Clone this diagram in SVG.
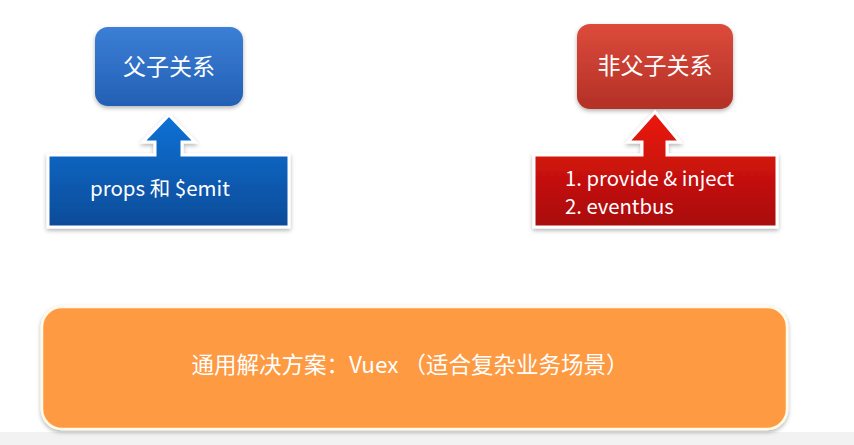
<svg xmlns="http://www.w3.org/2000/svg" width="854" height="445" viewBox="0 0 854 445">
<defs>
<linearGradient id="gBlueTop" x1="0" y1="0" x2="0" y2="1"><stop offset="0" stop-color="#3b7fd6"/><stop offset="1" stop-color="#2360b4"/></linearGradient>
<linearGradient id="gBlue" x1="0" y1="0" x2="0" y2="1"><stop offset="0" stop-color="#0a72d6"/><stop offset="1" stop-color="#0a4b98"/></linearGradient>
<linearGradient id="gRedTop" x1="0" y1="0" x2="0" y2="1"><stop offset="0" stop-color="#dc4b3b"/><stop offset="1" stop-color="#b33026"/></linearGradient>
<linearGradient id="gRed" x1="0" y1="0" x2="0" y2="1"><stop offset="0" stop-color="#ec1a10"/><stop offset="1" stop-color="#a80a08"/></linearGradient>
<filter id="sh" x="-10%" y="-10%" width="120%" height="130%"><feDropShadow dx="0" dy="2" stdDeviation="2" flood-color="#000" flood-opacity="0.3"/></filter>
</defs>
<style>
.lbl{font-family:"Noto Sans CJK SC","Open Sans",sans-serif;fill:#fff;}
.box{stroke:#fff;stroke-width:3;}
</style>
<rect x="0" y="0" width="854" height="445" fill="#ffffff"/>
<rect x="0" y="432" width="854" height="13" fill="#f2f2f2"/>

<g id="node-parent-child">
<rect x="95" y="27" width="148" height="79" rx="13" fill="url(#gBlueTop)" filter="url(#sh)"/>
<text class="lbl" x="169" y="75" font-size="23" text-anchor="middle">父子关系</text>
</g>

<g id="node-props">
<path class="box" d="M48,155 H155 V142 H143 L169,115 L195,142 H182 V155 H289 V227 H48 Z" fill="url(#gBlue)" filter="url(#sh)"/>
<text class="lbl" x="90" y="196" font-size="20.5">props 和 $emit</text>
</g>

<g id="node-non-parent">
<rect x="577" y="24" width="156" height="85" rx="13" fill="url(#gRedTop)" filter="url(#sh)"/>
<text class="lbl" x="655" y="74" font-size="23" text-anchor="middle">非父子关系</text>
</g>

<g id="node-provide">
<path class="box" d="M534,155 H642 V142 H628 L655,112 L680,142 H667 V155 H777 V227 H534 Z" fill="url(#gRed)" filter="url(#sh)"/>
<text class="lbl" x="565" y="186" font-size="20.3">1. provide &amp; inject</text>
<text class="lbl" x="565" y="214" font-size="20.3">2. eventbus</text>
</g>

<g id="node-vuex">
<rect x="42" y="307" width="745" height="122" rx="20" fill="#fd9a42" stroke="#fffbe8" stroke-width="2.5" filter="url(#sh)"/>
<text class="lbl" x="410" y="373" font-size="22.5" text-anchor="middle">通用解决方案：Vuex （适合复杂业务场景）</text>
</g>

<g id="connectors"></g>
</svg>
